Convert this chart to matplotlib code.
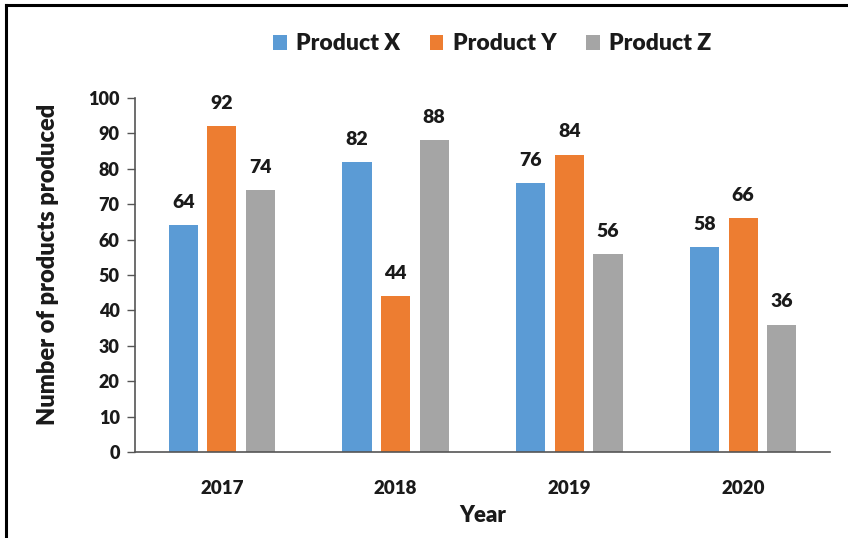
import numpy as np
import matplotlib
matplotlib.use("Agg")
import matplotlib.pyplot as plt
from matplotlib.lines import Line2D

plt.rcParams['font.family'] = ['Lato', 'DejaVu Sans']
plt.rcParams['font.weight'] = 'heavy'

years = ["2017", "2018", "2019", "2020"]
product_x = [64, 82, 76, 58]
product_y = [92, 44, 84, 66]
product_z = [74, 88, 56, 36]
series_names = ["Product X", "Product Y", "Product Z"]
colors = ["#5B9BD5", "#ED7D31", "#A5A5A5"]

fig = plt.figure(figsize=(8.48, 5.38), dpi=100)
ax = fig.add_axes([135 / 848, 1 - 452 / 538, 695 / 848, 354 / 538])

x = np.arange(len(years))
pitch = 0.222
width = 0.168
for i, (vals, name, c) in enumerate(zip([product_x, product_y, product_z], series_names, colors)):
    bars = ax.bar(x + (i - 1) * pitch, vals, width, color=c, label=name, zorder=2)
    for b, v in zip(bars, vals):
        ax.text(b.get_x() + b.get_width() / 2, v + 4, str(v), ha='center', va='bottom',
                fontsize=14, fontweight='heavy', color='#1a1a1a')

ax.set_xlim(-0.5, 3.5)
ax.set_ylim(0, 100)
ax.set_yticks(range(0, 101, 10))
ax.set_xticks(x)
ax.set_xticklabels(years)
ax.tick_params(axis='y', length=6, width=1, color='#555555', labelsize=13, pad=5)
ax.tick_params(axis='x', length=0, labelsize=13.5, pad=20)
for lab in ax.get_xticklabels() + ax.get_yticklabels():
    lab.set_fontweight('heavy')
    lab.set_color('#1a1a1a')

for side in ['top', 'right']:
    ax.spines[side].set_visible(False)
ax.spines['left'].set_color('#555555')
ax.spines['bottom'].set_color('#555555')
ax.spines['left'].set_linewidth(1.2)
ax.spines['bottom'].set_linewidth(1.2)

ax.set_ylabel("Number of products produced", fontsize=17, fontweight='heavy', color='#1a1a1a')
ax.yaxis.set_label_coords(-0.11, 0.53)
ax.set_xlabel("Year", fontsize=16, fontweight='heavy', labelpad=6, color='#1a1a1a')

leg = fig.legend(loc='center', bbox_to_anchor=(492 / 848, 1 - 44 / 538), ncol=3, frameon=False,
                 fontsize=16.5, handlelength=0.6, handleheight=0.6, handletextpad=0.4, columnspacing=1.3)
for t in leg.get_texts():
    t.set_fontweight('heavy')
    t.set_color('#1a1a1a')

# frame lines along the top and left edge of the picture
fig.add_artist(Line2D([6 / 848, 6 / 848], [0, 1 - 5 / 538], color='black', lw=2.2, transform=fig.transFigure))
fig.add_artist(Line2D([6 / 848, 1], [1 - 5 / 538, 1 - 5 / 538], color='black', lw=2.2, transform=fig.transFigure))

fig.savefig("out.png", dpi=100)
